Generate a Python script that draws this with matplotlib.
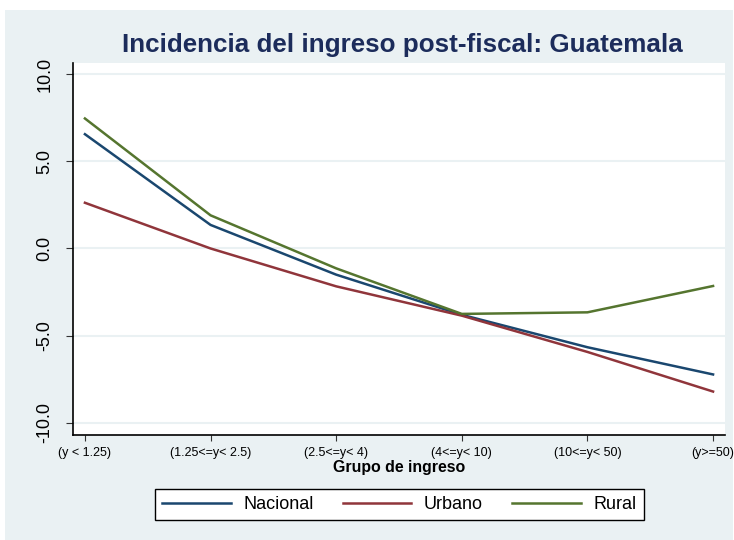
import matplotlib
matplotlib.use("Agg")
import matplotlib.pyplot as plt
from matplotlib.patches import Rectangle

plt.rcParams['font.family'] = ['Liberation Sans', 'DejaVu Sans']

# data
grupos = ["(y < 1.25)", "(1.25<=y< 2.5)", "(2.5<=y< 4)", "(4<=y< 10)", "(10<=y< 50)", "(y>=50)"]
nacional = [6.55, 1.35, -1.5, -3.8, -5.66, -7.22]
urbano = [2.62, 0.0, -2.17, -3.85, -5.93, -8.2]
rural = [7.45, 1.9, -1.14, -3.75, -3.66, -2.15]
yticks = [10.0, 5.0, 0.0, -5.0, -10.0]

bg = "#EAF1F3"

fig = plt.figure(figsize=(7.34, 5.4), dpi=100)
fig.patch.set_facecolor("white")
fig.patches.append(Rectangle((5/734, 0), 728/734, 530/540, transform=fig.transFigure,
                             facecolor=bg, edgecolor="none", zorder=-10))

ax = fig.add_axes([73/734, 105/540, 652/734, 372/540])
ax.set_facecolor("white")

x = list(range(len(grupos)))
ax.plot(x, nacional, color="#1A476F", lw=1.8, label="Nacional")
ax.plot(x, urbano, color="#90353B", lw=1.8, label="Urbano")
ax.plot(x, rural, color="#55752F", lw=1.8, label="Rural")

ax.set_xlim(-0.095, 5.095)
ax.set_ylim(-10.69, 10.63)
ax.set_yticks(yticks)
ax.set_yticklabels([f"{v:.1f}" for v in yticks], rotation=90, va="center", fontsize=13)
ax.set_xticks(x)
ax.set_xticklabels(grupos, fontsize=9)
ax.tick_params(axis="y", length=5, width=0.8, pad=9, color="#333333")
ax.tick_params(axis="x", length=4.5, width=0.8, pad=4, color="#333333")
ax.grid(axis="y", color=bg, lw=1.5)
ax.set_axisbelow(True)

for s in ["top", "right"]:
    ax.spines[s].set_visible(False)
for s in ["left", "bottom"]:
    ax.spines[s].set_linewidth(1.2)
    ax.spines[s].set_color("black")

ax.set_xlabel("Grupo de ingreso", fontsize=11.4, fontweight="bold", labelpad=1)
fig.text(402/734, (540 - 45)/540, "Incidencia del ingreso post-fiscal: Guatemala",
         ha="center", va="center", fontsize=18.7, fontweight="bold", color="#1C2C5B")

leg = fig.legend(loc="center", bbox_to_anchor=(0.544, 0.0657), ncol=3, fontsize=13,
                 frameon=True, fancybox=False, edgecolor="black", framealpha=1,
                 handlelength=3.8, handletextpad=0.7, columnspacing=1.6, borderpad=0.4)
leg.get_frame().set_linewidth(1.0)

fig.savefig("out.png", dpi=100, facecolor=fig.get_facecolor())
